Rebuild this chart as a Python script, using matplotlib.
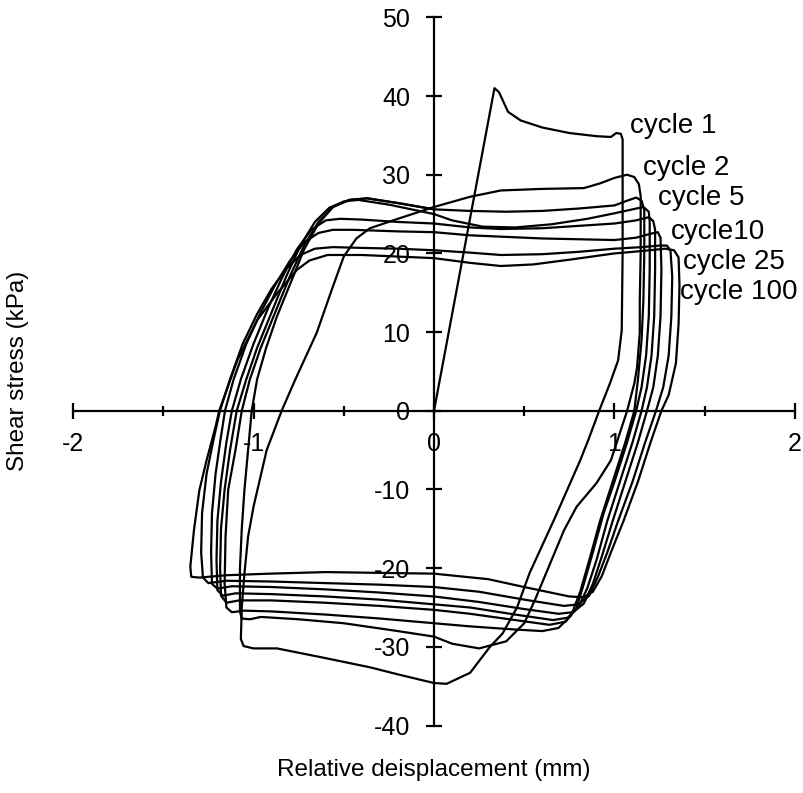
import numpy as np
import matplotlib.pyplot as plt

plt.rcParams["font.family"] = ["Liberation Sans", "DejaVu Sans"]
plt.rcParams["axes.unicode_minus"] = False

# hysteresis loops, relative displacement (mm) vs shear stress (kPa)
cyc1 = [(0, 0), (0.335, 41.0), (0.36, 40.5), (0.41, 38.0), (0.48, 36.9), (0.6, 36.0), (0.75, 35.3),
        (0.9, 34.9), (0.98, 34.8), (1.01, 35.3), (1.035, 35.2), (1.045, 34.5), (1.045, 20), (1.04, 10.2),
        (1.02, 6.4), (0.975, 3.5), (0.915, 0), (0.855, -3.7), (0.81, -6.3), (0.67, -13.6), (0.53, -20.6),
        (0.46, -25.0), (0.38, -28.3), (0.31, -30.0), (0.2, -33.3), (0.07, -34.7), (0.0, -34.6),
        (-0.2, -33.5), (-0.355, -32.6), (-0.63, -31.3), (-0.87, -30.2), (-1.0, -30.2), (-1.055, -29.9),
        (-1.07, -29.0), (-1.065, -25.0), (-1.05, -20.6), (-1.03, -16.0), (-1.0, -12.2), (-0.927, -5.0),
        (-0.844, 0), (-0.77, 3.9), (-0.65, 9.9), (-0.56, 15.8), (-0.5, 19.6), (-0.43, 21.9),
        (-0.355, 23.2), (-0.2, 24.4), (0, 25.9)]

cyc2 = [(0, 25.9), (0.2, 27.2), (0.37, 28.0), (0.6, 28.2), (0.83, 28.3), (0.92, 28.9), (1.0, 29.6),
        (1.07, 30.0), (1.11, 29.7), (1.135, 28.8), (1.145, 27.3), (1.145, 20), (1.14, 14), (1.14, 9.9),
        (1.125, 5.5), (1.11, 3.5), (1.07, 0), (0.98, -6.3), (0.9, -9.2), (0.79, -12.2), (0.72, -15.2),
        (0.62, -20.7), (0.56, -24.0), (0.5, -27.0), (0.4, -29.3), (0.25, -30.2), (0.1, -29.6),
        (0, -28.7), (-0.2, -28.0), (-0.5, -27.0), (-0.75, -26.5), (-0.96, -26.2), (-1.02, -26.5),
        (-1.065, -26.4), (-1.075, -25.5), (-1.075, -20), (-1.065, -15), (-1.05, -10), (-1.03, -5),
        (-1.01, 0), (-0.98, 4), (-0.93, 8), (-0.87, 12), (-0.79, 16.5), (-0.72, 20.5), (-0.64, 23.8),
        (-0.56, 25.9), (-0.47, 26.8), (-0.37, 27.0), (-0.2, 26.4), (0, 25.6)]

cyc5 = [(0, 25.6), (0.2, 25.4), (0.4, 25.3), (0.6, 25.4), (0.8, 25.7), (1.0, 26.1), (1.07, 26.7),
        (1.12, 27.1), (1.15, 26.7), (1.165, 25.5), (1.165, 20), (1.16, 14), (1.15, 9), (1.13, 4),
        (1.11, 0), (1.06, -4), (0.99, -9), (0.92, -14), (0.86, -19), (0.81, -23), (0.76, -26),
        (0.69, -27.6), (0.6, -28.0), (0.45, -27.8), (0.2, -27.4), (0, -27.0), (-0.3, -26.4),
        (-0.6, -25.9), (-0.9, -25.5), (-1.05, -25.4), (-1.12, -25.6), (-1.15, -25.0), (-1.16, -22),
        (-1.155, -16), (-1.14, -10), (-1.1, -5), (-1.065, 0), (-1.02, 4), (-0.96, 8), (-0.88, 12.5),
        (-0.8, 17), (-0.72, 21), (-0.64, 24), (-0.56, 25.9), (-0.47, 26.8), (-0.37, 27.0),
        (-0.2, 26.4), (0, 25.6)]

cyc10 = [(0, 25.0), (0.1, 24.2), (0.27, 23.4), (0.45, 23.3), (0.65, 23.7), (0.85, 24.4), (1.0, 25.1),
         (1.1, 25.6), (1.16, 25.9), (1.19, 25.3), (1.195, 24), (1.195, 18), (1.19, 12), (1.175, 7),
         (1.15, 3), (1.12, 0), (1.07, -4), (1.0, -9), (0.94, -13), (0.88, -18), (0.83, -22),
         (0.79, -25), (0.73, -26.8), (0.64, -27.2), (0.45, -26.6), (0.2, -25.8), (0, -25.3),
         (-0.3, -24.8), (-0.6, -24.4), (-0.9, -24.1), (-1.08, -24.1), (-1.15, -24.4), (-1.18, -23.5),
         (-1.185, -20), (-1.18, -15), (-1.16, -10), (-1.13, -5), (-1.093, 0), (-1.04, 4), (-0.98, 8),
         (-0.9, 12.5), (-0.82, 17), (-0.74, 21), (-0.66, 24), (-0.58, 25.8), (-0.5, 26.6),
         (-0.42, 26.8), (-0.25, 26.2), (0, 25.0)]

cyc25 = [(0, 23.8), (0.2, 23.3), (0.37, 23.1), (0.6, 23.2), (0.8, 23.5), (1.0, 23.8), (1.12, 24.2),
         (1.19, 24.6), (1.215, 24.1), (1.225, 23), (1.225, 18), (1.22, 12), (1.205, 7), (1.18, 3),
         (1.15, 0), (1.1, -4), (1.03, -9), (0.96, -14), (0.9, -19), (0.85, -22.5), (0.8, -25),
         (0.74, -26.3), (0.66, -26.6), (0.45, -25.9), (0.2, -25.0), (0, -24.6), (-0.3, -24.0),
         (-0.6, -23.6), (-0.9, -23.3), (-1.1, -23.2), (-1.17, -23.5), (-1.2, -22.8), (-1.205, -19),
         (-1.2, -14), (-1.18, -9), (-1.15, -4), (-1.12, 0), (-1.07, 4), (-1.0, 8.5), (-0.92, 13),
         (-0.84, 17), (-0.76, 20.5), (-0.68, 23), (-0.6, 24.2), (-0.52, 24.4), (-0.4, 24.3),
         (-0.2, 24.0), (0, 23.8)]

cyc50 = [(0, 22.7), (0.2, 22.3), (0.4, 22.1), (0.6, 21.9), (0.8, 21.8), (1.0, 21.7), (1.12, 22.0),
         (1.2, 22.5), (1.24, 22.7), (1.255, 22), (1.26, 18), (1.255, 12), (1.24, 7), (1.215, 3),
         (1.18, 0), (1.13, -4), (1.06, -9), (0.99, -14), (0.93, -18.5), (0.88, -22), (0.83, -24.5),
         (0.77, -25.6), (0.69, -25.8), (0.5, -25.2), (0.25, -24.3), (0, -23.6), (-0.3, -23.1),
         (-0.6, -22.7), (-0.9, -22.4), (-1.12, -22.3), (-1.2, -22.6), (-1.23, -22), (-1.235, -18),
         (-1.23, -13), (-1.21, -8), (-1.185, -4), (-1.158, 0), (-1.11, 4), (-1.04, 8.5), (-0.96, 12.5),
         (-0.88, 16), (-0.8, 19), (-0.72, 21.4), (-0.64, 22.6), (-0.56, 23.0), (-0.45, 23.0),
         (-0.2, 22.8), (0, 22.7)]

cyc75 = [(0, 20.4), (0.2, 20.1), (0.37, 19.8), (0.6, 19.9), (0.8, 20.2), (1.0, 20.6), (1.15, 20.8),
         (1.25, 21.0), (1.29, 21.0), (1.31, 20.4), (1.32, 17), (1.315, 12), (1.3, 7), (1.27, 3),
         (1.23, 0), (1.17, -4), (1.1, -9), (1.02, -14), (0.96, -18), (0.91, -21), (0.86, -23.5),
         (0.8, -24.6), (0.72, -24.8), (0.5, -24.0), (0.25, -23.0), (0, -22.4), (-0.3, -22.1),
         (-0.6, -21.9), (-0.9, -21.7), (-1.15, -21.6), (-1.25, -21.9), (-1.28, -21.2), (-1.29, -18),
         (-1.285, -13), (-1.26, -8), (-1.22, -3.5), (-1.186, 0), (-1.13, 4), (-1.06, 8.5),
         (-0.98, 12.3), (-0.9, 15.5), (-0.82, 18), (-0.74, 19.8), (-0.66, 20.6), (-0.56, 20.8),
         (-0.4, 20.7), (-0.2, 20.6), (0, 20.4)]

cyc100 = [(0, 19.4), (0.2, 18.8), (0.37, 18.4), (0.55, 18.6), (0.75, 19.2), (1.0, 20.0), (1.15, 20.3),
          (1.28, 20.6), (1.33, 20.4), (1.355, 19.5), (1.36, 16), (1.355, 11), (1.34, 6), (1.3, 2),
          (1.26, 0), (1.2, -4), (1.13, -9), (1.05, -14), (0.98, -18), (0.93, -21), (0.88, -23),
          (0.83, -23.7), (0.75, -23.6), (0.5, -22.4), (0.3, -21.4), (0, -20.7), (-0.3, -20.6),
          (-0.6, -20.5), (-0.91, -20.7), (-1.15, -20.9), (-1.3, -21.2), (-1.345, -21.1),
          (-1.35, -19.8), (-1.33, -15.2), (-1.3, -10.1), (-1.26, -6.3), (-1.21, -2.0), (-1.19, 0),
          (-1.09, 6.4), (-0.98, 11.5), (-0.87, 14.9), (-0.76, 17.9), (-0.69, 19.1), (-0.59, 19.8),
          (-0.4, 19.8), (-0.2, 19.6), (0, 19.4)]

loops = [cyc1, cyc2, cyc5, cyc10, cyc25, cyc50, cyc75, cyc100]

# curve labels and where they sit
label_text = ["cycle 1", "cycle 2", "cycle 5", "cycle10", "cycle 25", "cycle 100"]
label_x = [1.086, 1.158, 1.241, 1.311, 1.38, 1.363]
label_y = [36.2, 30.8, 27.0, 22.7, 18.9, 15.1]

x_major = [-2, -1, 0, 1, 2]
x_minor = [-1.5, -0.5, 0.5, 1.5]
y_ticks = [-40, -30, -20, -10, 0, 10, 20, 30, 40, 50]

fig = plt.figure(figsize=(8.04, 7.93), dpi=100)
ax = fig.add_axes([0.0908, 0.0851, 0.898, 0.893])

for loop in loops:
    pts = np.array(loop)
    ax.plot(pts[:, 0], pts[:, 1], color="black", lw=1.6, solid_joinstyle="round")

for t, lx, ly in zip(label_text, label_x, label_y):
    ax.text(lx, ly, t, fontsize=20, ha="left", va="center")

ax.set_xlim(-2, 2)
ax.set_ylim(-40, 50)
ax.spines["left"].set_position(("data", 0))
ax.spines["bottom"].set_position(("data", 0))
ax.spines["top"].set_visible(False)
ax.spines["right"].set_visible(False)
for s in ("left", "bottom"):
    ax.spines[s].set_linewidth(1.6)

ax.set_xticks(x_major)
ax.set_xticks(x_minor, minor=True)
ax.set_yticks(y_ticks)
ax.tick_params(which="major", direction="inout", length=12, width=1.6, labelsize=18)
ax.tick_params(which="minor", direction="inout", length=7.5, width=1.6)
ax.tick_params(axis="x", which="major", pad=9)
ax.tick_params(axis="y", which="major", pad=11)

fig.text(434 / 804, 1 - 770 / 793, "Relative deisplacement (mm)", fontsize=17.5, ha="center", va="center")
fig.text(18 / 804, 1 - 371 / 793, "Shear stress (kPa)", fontsize=17.5, ha="center", va="center", rotation=90)

fig.savefig("out.png", dpi=100)
